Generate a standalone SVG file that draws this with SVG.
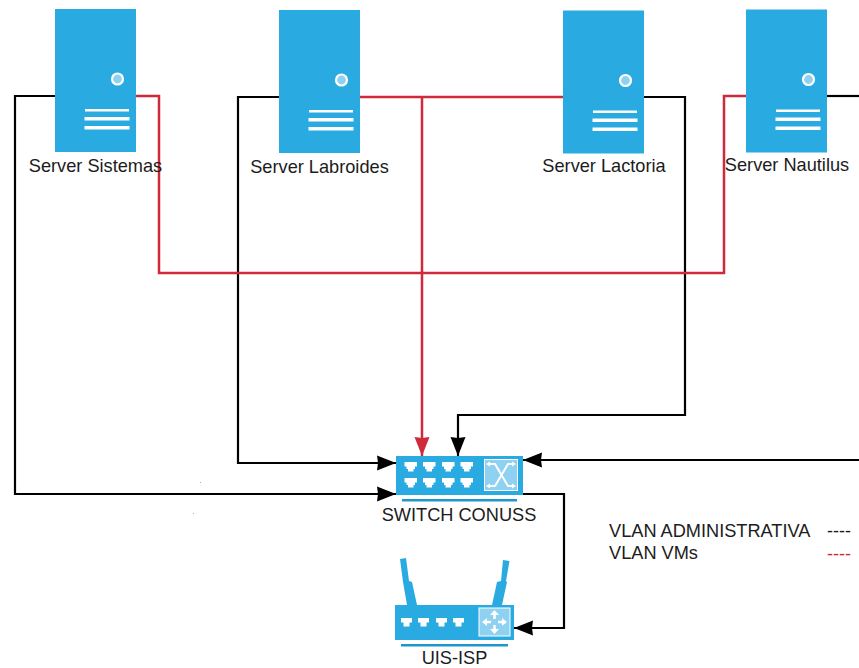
<svg xmlns="http://www.w3.org/2000/svg" width="859" height="668" viewBox="0 0 859 668">
<style>
text{font-family:"Liberation Sans",Arial,sans-serif;font-size:18.2px;fill:#1c1c1c}
.m{text-anchor:middle}
.b{fill:#29abe2}
.w{fill:#fff}
.k,.r{fill:none}
.k{stroke:#000;stroke-width:2.200}
.r{stroke:#cf2a3c;stroke-width:2.500}
</style>
<defs>
<marker id="ak" markerUnits="userSpaceOnUse" markerWidth="20" markerHeight="18" refX="19" refY="9" orient="auto"><path d="M0 1.500L19 9L0 16.500L1 9Z" fill="#000"/></marker>
<marker id="ar" markerUnits="userSpaceOnUse" markerWidth="20" markerHeight="18" refX="19" refY="9" orient="auto"><path d="M0 1.500L19 9L0 16.500L1 9Z" fill="#cf2a3c"/></marker>
<g id="srv">
<rect class="b" width="81" height="143"/>
<circle cx="62.500" cy="70" r="5.500" fill="#8ed1f0" stroke="#fff" stroke-width="2.200"/>
<rect class="w" x="30" y="100" width="44" height="2.500"/>
<rect class="w" x="29.500" y="108" width="45" height="3.500"/>
<rect class="w" x="29.500" y="117" width="45" height="3.500"/>
</g>
<path id="port" d="M0 0H11V4.500H8.500V8.500H2.500V4.500H0Z" fill="#fff"/>
<path id="port2" d="M0 0H12.500V4.500H10.500V7H9V9.500H3.500V7H2V4.500H0Z" fill="#fff"/>
</defs>
<g id="connectors">
<path class="k" d="M55 96H15V494H396" marker-end="url(#ak)"/>
<path class="k" d="M279 97H238V463H396" marker-end="url(#ak)"/>
<path class="k" d="M643 97H685V415H458V456" marker-end="url(#ak)"/>
<path class="k" d="M827 96H859"/>
<path class="k" d="M859 460H523" marker-end="url(#ak)"/>
<path class="k" d="M523 494H564V628H514" marker-end="url(#ak)"/>
<path class="r" d="M136 96H159V273H724V96H746"/>
<path class="r" d="M360 97H563"/>
<path class="r" d="M422 97V456" marker-end="url(#ar)"/>
</g>
<g id="server-sistemas"><use href="#srv" x="55" y="9"/><text class="m" x="95.500" y="172">Server Sistemas</text></g>
<g id="server-labroides"><use href="#srv" x="279" y="10"/><text class="m" x="319.500" y="173">Server Labroides</text></g>
<g id="server-lactoria"><use href="#srv" x="563" y="10.500"/><text class="m" x="604" y="172">Server Lactoria</text></g>
<g id="server-nautilus"><use href="#srv" x="746" y="9.500"/><text class="m" x="787" y="171">Server Nautilus</text></g>
<g id="switch-conuss">
<rect class="b" x="396" y="456" width="127" height="39"/>
<use href="#port2" x="404.500" y="462"/><use href="#port2" x="423" y="462"/><use href="#port2" x="442" y="462"/><use href="#port2" x="460.500" y="462"/>
<use href="#port2" x="404.500" y="478"/><use href="#port2" x="423" y="478"/><use href="#port2" x="442" y="478"/><use href="#port2" x="460.500" y="478"/>
<rect x="484.500" y="459.500" width="33" height="31" fill="#8ed1f0" stroke="#fff"/>
<path d="M488 464H495L508 486H514M488 486H495L508 464H514" fill="none" stroke="#fff" stroke-width="2"/>
<path d="M486 464L490 461.500V466.500ZM486 486L490 483.500V488.500ZM516 464L512 461.500V466.500ZM516 486L512 483.500V488.500Z" fill="#fff"/>
<rect x="402" y="499" width="115" height="2.500" fill="#1f97cc"/>
<text class="m" x="459" y="521">SWITCH CONUSS</text>
</g>
<g id="uis-isp">
<path class="b" d="M400 559L406 558L409 581L412 582L417 605H407L403 582Z"/>
<path class="b" d="M503 560L509.500 561L506 581L507 582L502 605H492L497 582L501 581Z"/>
<rect class="b" x="395" y="605" width="119" height="35"/>
<use href="#port" x="401" y="618"/><use href="#port" x="418" y="618"/><use href="#port" x="436" y="618"/><use href="#port" x="453" y="618"/>
<rect x="479" y="608" width="31" height="28" fill="#8ed1f0" stroke="#fff"/>
<path d="M494.500 612V619M494.500 625V632M484 622H491M498 622H505" fill="none" stroke="#fff" stroke-width="2.500"/>
<path d="M494.500 610L490 615H499ZM494.500 634L490 629H499ZM482 622L487 618V626ZM507 622L502 618V626Z" fill="#fff"/>
<rect x="401" y="644" width="107" height="2.500" fill="#1f97cc"/>
<text class="m" x="454.500" y="664">UIS-ISP</text>
</g>
<g id="legend">
<text x="609" y="537">VLAN ADMINISTRATIVA</text>
<text x="609" y="559">VLAN VMs</text>
<text x="827" y="537" style="font-size:18px">----</text>
<text x="827" y="560" style="font-size:18px;fill:#cf2a3c">----</text>
</g>
<rect x="200" y="482" width="1" height="1" fill="#aaa"/>
<rect x="193" y="513" width="1" height="1" fill="#aaa"/>
</svg>
